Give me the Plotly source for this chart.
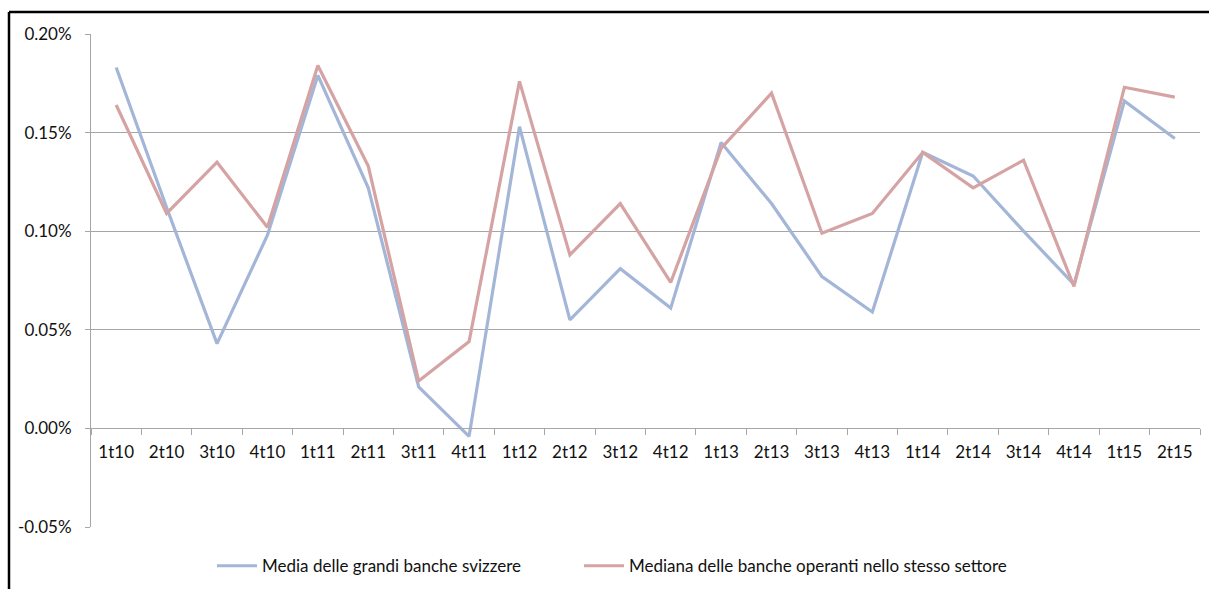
import plotly.graph_objects as go

quarters = ["1t10", "2t10", "3t10", "4t10", "1t11", "2t11", "3t11", "4t11",
            "1t12", "2t12", "3t12", "4t12", "1t13", "2t13", "3t13", "4t13",
            "1t14", "2t14", "3t14", "4t14", "1t15", "2t15"]

# values in percent
media_grandi_banche = [0.183, 0.112, 0.043, 0.098, 0.179, 0.122, 0.021, -0.004,
                       0.153, 0.055, 0.081, 0.061, 0.145, 0.114, 0.077, 0.059,
                       0.140, 0.128, 0.100, 0.073, 0.166, 0.147]
mediana_settore = [0.164, 0.109, 0.135, 0.102, 0.184, 0.133, 0.024, 0.044,
                   0.176, 0.088, 0.114, 0.074, 0.142, 0.170, 0.099, 0.109,
                   0.140, 0.122, 0.136, 0.072, 0.173, 0.168]

y_ticks = [-0.05, 0.00, 0.05, 0.10, 0.15, 0.20]
y_tick_labels = ["-0.05%", "0.00%", "0.05%", "0.10%", "0.15%", "0.20%"]

FONT = "Lato"
BLUE = "#A3B6D8"
RED = "#D5A3A3"
GRID = "#A6A6A6"
TEXT = "#111111"

fig = go.Figure()
fig.add_trace(go.Scatter(
    x=quarters, y=[v / 100 for v in media_grandi_banche], mode="lines",
    name="Media delle grandi banche svizzere",
    line=dict(color=BLUE, width=3.2), legend="legend"))
fig.add_trace(go.Scatter(
    x=quarters, y=[v / 100 for v in mediana_settore], mode="lines",
    name="Mediana delle banche operanti nello stesso settore",
    line=dict(color=RED, width=3.2), legend="legend2"))

y_min, y_max = y_ticks[0] / 100, y_ticks[-1] / 100
zero_pos = (0 - y_min) / (y_max - y_min)


def legend_at(px_left):
    return dict(orientation="h", x=(px_left - 91) / 1109, xanchor="left",
                y=-0.043, yanchor="top", bgcolor="rgba(0,0,0,0)",
                font=dict(family=FONT, size=17, color=TEXT),
                itemwidth=40)


fig.update_layout(
    width=1209, height=589,
    margin=dict(l=91, r=9, t=34, b=62, autoexpand=False),
    paper_bgcolor="white", plot_bgcolor="white",
    font=dict(family=FONT, size=17, color=TEXT),
    showlegend=True,
    legend=legend_at(212),
    legend2=legend_at(579),
    xaxis=dict(
        type="category", anchor="free", position=zero_pos, automargin=False,
        showline=True, linecolor=GRID, linewidth=1,
        ticks="outside", tickson="boundaries", ticklen=6, tickcolor=GRID,
        ticklabelstandoff=8,
        showgrid=False, zeroline=False,
        range=[-0.5, len(quarters) - 0.5],
        tickfont=dict(family=FONT, size=17, color=TEXT),
    ),
    yaxis=dict(
        range=[y_min, y_max], automargin=False,
        tickvals=[t / 100 for t in y_ticks], ticktext=y_tick_labels,
        showline=True, linecolor=GRID, linewidth=1,
        ticks="outside", ticklen=5, tickcolor=GRID,
        ticklabelstandoff=10,
        showgrid=True, gridcolor=GRID, gridwidth=1,
        zeroline=False,
        tickfont=dict(family=FONT, size=17, color=TEXT),
    ),
)

# chart frame edges (left and top)
x_left = (9 - 91) / 1109
y_top = 1 + (34 - 12) / 493
fig.add_shape(type="line", xref="paper", yref="paper",
              x0=x_left, x1=x_left, y0=y_top, y1=-0.2,
              line=dict(color="black", width=2.5))
fig.add_shape(type="line", xref="paper", yref="paper",
              x0=x_left, x1=1.05, y0=y_top, y1=y_top,
              line=dict(color="black", width=2.5))

fig.write_html("out.html")
